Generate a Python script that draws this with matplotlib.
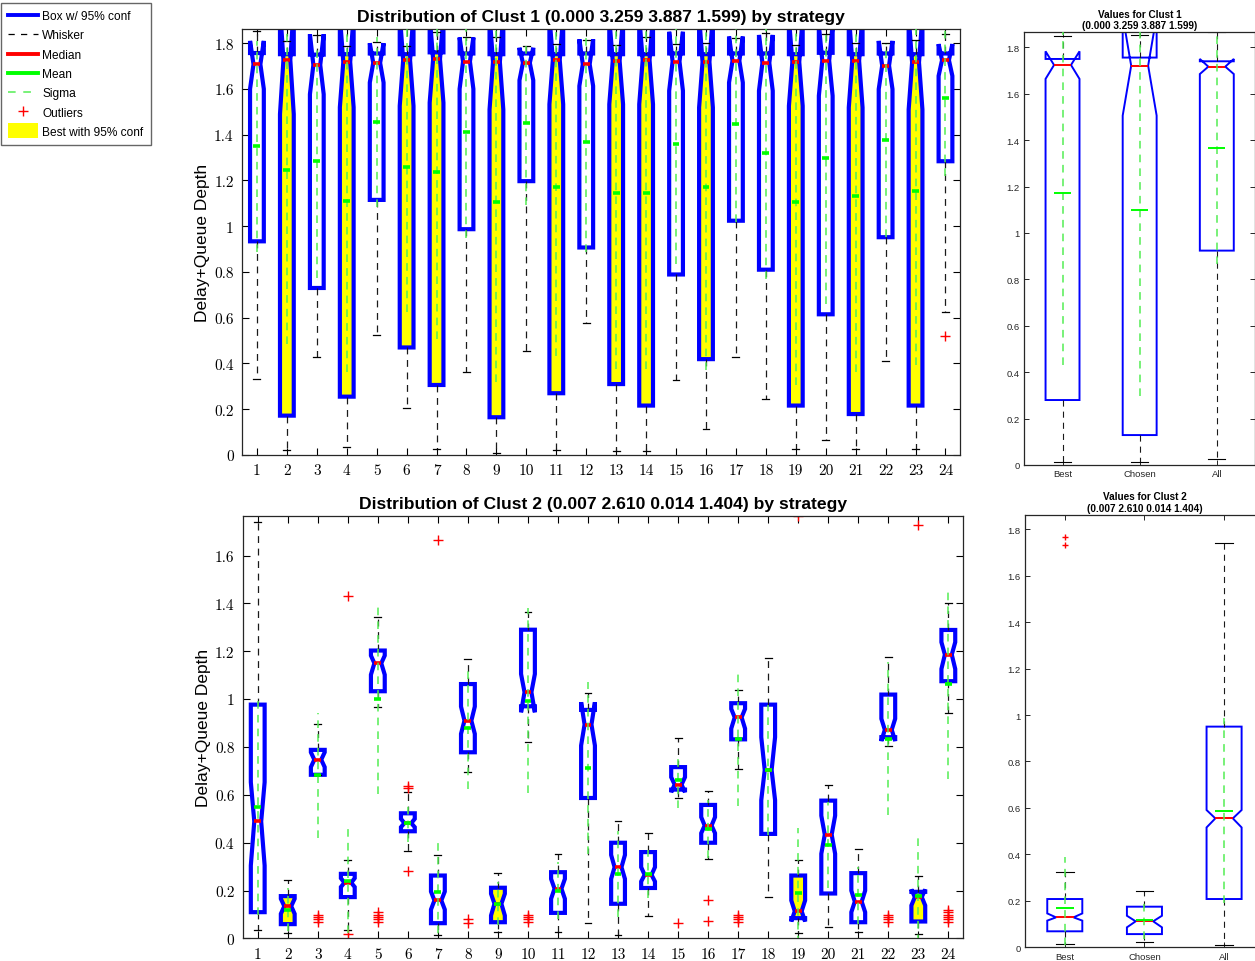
import matplotlib
matplotlib.use('Agg')
import matplotlib.pyplot as plt
import matplotlib.patches as mpatches
from matplotlib.lines import Line2D
from matplotlib.legend_handler import HandlerPatch

plt.rcParams['font.family'] = ['Liberation Sans', 'DejaVu Sans']

# ---------------- data ----------------
strategies = list(range(1, 25))
y_ticks = [0, 0.2, 0.4, 0.6, 0.8, 1.0, 1.2, 1.4, 1.6, 1.8]
y_tick_labels = ['0', '0.2', '0.4', '0.6', '0.8', '1', '1.2', '1.4', '1.6', '1.8']

title1 = 'Distribution of Clust 1 (0.000 3.259 3.887 1.599) by strategy'
title2 = 'Distribution of Clust 2 (0.007 2.610 0.014 1.404) by strategy'
side_title1 = 'Values for Clust 1\n(0.000 3.259 3.887 1.599)'
side_title2 = 'Values for Clust 2\n(0.007 2.610 0.014 1.404)'
side_labels = ['Best', 'Chosen', 'All']
ylabel = 'Delay+Queue Depth'

# Cluster 1, per strategy
c1_whislo = [0.33, 0.023, 0.43, 0.034, 0.524, 0.204, 0.026, 0.364, 0.007, 0.454, 0.022, 0.575,
             0.016, 0.019, 0.329, 0.114, 0.429, 0.245, 0.026, 0.067, 0.026, 0.412, 0.026, 0.623]
c1_q1 = [0.934, 0.172, 0.73, 0.255, 1.115, 0.47, 0.306, 0.987, 0.165, 1.197, 0.27, 0.907,
         0.31, 0.216, 0.789, 0.419, 1.024, 0.81, 0.216, 0.615, 0.179, 0.952, 0.216, 1.284]
c1_cilo = [1.60, 1.49, 1.577, 1.52, 1.628, 1.526, 1.54, 1.60, 1.51, 1.638, 1.533, 1.613,
           1.533, 1.533, 1.592, 1.519, 1.628, 1.592, 1.526, 1.57, 1.519, 1.599, 1.51, 1.657]
c1_med = [1.708, 1.727, 1.705, 1.718, 1.714, 1.726, 1.73, 1.72, 1.718, 1.714, 1.727, 1.708,
          1.723, 1.726, 1.72, 1.718, 1.723, 1.714, 1.718, 1.724, 1.723, 1.702, 1.716, 1.726]
c1_cihi = [1.81, 1.96, 1.839, 1.92, 1.80, 1.93, 1.92, 1.825, 1.93, 1.78, 1.92, 1.817,
           1.91, 1.92, 1.85, 1.92, 1.829, 1.836, 1.91, 1.878, 1.93, 1.81, 1.92, 1.796]
c1_q3 = [1.757, 1.752, 1.75, 1.752, 1.755, 1.752, 1.76, 1.755, 1.752, 1.755, 1.752, 1.755,
         1.752, 1.752, 1.755, 1.752, 1.755, 1.755, 1.752, 1.758, 1.752, 1.755, 1.752, 1.755]
c1_whishi = [1.855, 1.81, 1.837, 1.787, 1.806, 1.787, 1.847, 1.825, 1.829, 1.788, 1.796, 1.814,
             1.79, 1.825, 1.796, 1.80, 1.822, 1.843, 1.79, 1.839, 1.80, 1.80, 1.814, 1.839]
c1_mean = [1.349, 1.247, 1.283, 1.111, 1.455, 1.257, 1.239, 1.41, 1.108, 1.452, 1.171, 1.367,
           1.145, 1.145, 1.359, 1.172, 1.447, 1.318, 1.104, 1.30, 1.133, 1.375, 1.152, 1.56]
c1_sigma = [0.46, 0.76, 0.51, 0.75, 0.37, 0.63, 0.73, 0.46, 0.79, 0.36, 0.74, 0.48,
            0.77, 0.77, 0.525, 0.80, 0.43, 0.55, 0.80, 0.64, 0.77, 0.42, 0.76, 0.34]
c1_fliers = [[], [], [], [], [], [], [], [], [], [], [], [],
             [], [], [], [], [], [], [], [], [], [], [], [0.521]]
c1_best = [2, 4, 6, 7, 9, 11, 13, 14, 16, 19, 21, 23]

# Cluster 2, per strategy
c2_whislo = [0.036, 0.021, 0.681, 0.035, 0.969, 0.367, 0.015, 0.695, 0.027, 0.82, 0.029, 0.064,
             0.015, 0.092, 0.585, 0.333, 0.709, 0.175, 0.023, 0.048, 0.029, 0.803, 0.020, 0.941]
c2_q1 = [0.110, 0.060, 0.684, 0.173, 1.033, 0.448, 0.064, 0.778, 0.068, 0.970, 0.107, 0.587,
         0.145, 0.211, 0.622, 0.40, 0.832, 0.437, 0.085, 0.188, 0.068, 0.841, 0.071, 1.075]
c2_cilo = [0.305, 0.103, 0.716, 0.215, 1.102, 0.465, 0.121, 0.855, 0.096, 0.945, 0.166, 0.806,
           0.249, 0.238, 0.611, 0.44, 0.877, 0.578, 0.071, 0.354, 0.110, 0.825, 0.138, 1.126]
c2_med = [0.489, 0.135, 0.747, 0.233, 1.150, 0.482, 0.159, 0.910, 0.145, 1.029, 0.208, 0.894,
          0.298, 0.266, 0.643, 0.472, 0.924, 0.704, 0.114, 0.434, 0.154, 0.872, 0.173, 1.186]
c2_cihi = [0.653, 0.166, 0.778, 0.252, 1.182, 0.50, 0.196, 0.969, 0.187, 1.105, 0.249, 0.987,
           0.349, 0.298, 0.674, 0.507, 0.959, 0.841, 0.159, 0.513, 0.20, 0.918, 0.205, 1.238]
c2_q3 = [0.977, 0.177, 0.788, 0.270, 1.203, 0.523, 0.263, 1.063, 0.212, 1.290, 0.277, 0.955,
         0.40, 0.361, 0.716, 0.558, 0.983, 0.977, 0.263, 0.576, 0.273, 1.019, 0.195, 1.289]
c2_whishi = [1.739, 0.246, 0.896, 0.329, 1.344, 0.614, 0.349, 1.168, 0.274, 1.365, 0.354, 1.026,
             0.49, 0.440, 0.838, 0.618, 1.038, 1.171, 0.326, 0.643, 0.375, 1.177, 0.259, 1.402]
c2_mean = [0.550, 0.121, 0.681, 0.242, 1.0, 0.482, 0.194, 0.878, 0.145, 0.994, 0.200, 0.712,
           0.270, 0.270, 0.661, 0.458, 0.832, 0.704, 0.191, 0.389, 0.180, 0.835, 0.177, 1.063]
c2_sigma = [0.45, 0.09, 0.26, 0.22, 0.395, 0.08, 0.23, 0.255, 0.09, 0.385, 0.12, 0.36,
            0.18, 0.10, 0.115, 0.12, 0.28, 0.27, 0.27, 0.18, 0.12, 0.32, 0.25, 0.395]
c2_fliers = [[], [], [0.07, 0.08, 0.09, 0.10], [1.432, 0.02], [0.07, 0.08, 0.09, 0.10, 0.11],
             [0.628, 0.638, 0.281], [1.663], [0.065, 0.08], [], [0.07, 0.08, 0.09, 0.10], [], [],
             [], [], [0.064], [0.159, 0.075], [0.07, 0.08, 0.09, 0.10], [], [1.764], [], [],
             [0.07, 0.08, 0.09, 0.10], [1.729], [0.07, 0.08, 0.09, 0.10, 0.11, 0.12]]
c2_best = [2, 9, 19, 23]

# Side panels (Best, Chosen, All)
s1_whislo = [0.011, 0.011, 0.026]
s1_q1 = [0.280, 0.129, 0.924]
s1_cilo = [1.664, 1.506, 1.685]
s1_med = [1.724, 1.721, 1.717]
s1_cihi = [1.783, 1.936, 1.75]
s1_q3 = [1.750, 1.756, 1.74]
s1_whishi = [1.848, 1.853, 1.865]
s1_mean = [1.171, 1.098, 1.366]
s1_sigma = [0.74, 0.80, 0.50]
s1_fliers = [[], [], []]

s2_whislo = [0.013, 0.0215, 0.009]
s2_q1 = [0.069, 0.057, 0.208]
s2_cilo = [0.115, 0.086, 0.516]
s2_med = [0.129, 0.112, 0.555]
s2_cihi = [0.146, 0.136, 0.591]
s2_q3 = [0.208, 0.175, 0.950]
s2_whishi = [0.326, 0.241, 1.741]
s2_mean = [0.169, 0.119, 0.588]
s2_sigma = [0.218, 0.085, 0.397]
s2_fliers = [[1.767, 1.730], [], []]

# ---------------- styling ----------------
BLUE = (0, 0, 1)
RED = (1, 0, 0)
GREEN = (0, 1, 0)
SIGMA = (0.33, 0.93, 0.33)
AXC = '0.15'


def draw_boxes(ax, positions, whislo, q1, cilo, med, cihi, q3, whishi, mean, sigma, fliers,
               best, width, box_lw, med_lw, whisk_lw, flier_size):
    stats = []
    for i in range(len(positions)):
        stats.append(dict(whislo=whislo[i], q1=q1[i], cilo=cilo[i], med=med[i], cihi=cihi[i],
                          q3=q3[i], whishi=whishi[i], mean=mean[i], fliers=fliers[i]))
    res = ax.bxp(stats, positions=positions, widths=width, shownotches=True,
                 patch_artist=True, manage_ticks=False,
                 boxprops=dict(edgecolor=BLUE, facecolor='none', linewidth=box_lw),
                 whiskerprops=dict(color='0.1', linestyle=(0, (5.5, 4.5)), linewidth=whisk_lw),
                 capprops=dict(color='k', linewidth=whisk_lw),
                 medianprops=dict(color=RED, linewidth=med_lw, solid_capstyle='butt'),
                 flierprops=dict(marker='+', markeredgecolor=RED, markersize=flier_size,
                                 markeredgewidth=1.0, linestyle='none'))
    for i, b in enumerate(res['boxes']):
        if positions[i] in best:
            b.set_facecolor('yellow')
    lo = [m - s for m, s in zip(mean, sigma)]
    hi = [m + s for m, s in zip(mean, sigma)]
    ax.vlines(positions, lo, hi, colors=[SIGMA], linestyles=[(0, (5, 4))],
              linewidth=1.1, zorder=2.6)
    ax.hlines(mean, [p - width / 4 for p in positions], [p + width / 4 for p in positions],
              colors=[GREEN], linewidth=med_lw, zorder=3)


fig = plt.figure(figsize=(12.55, 9.62), dpi=100)

# ---- main panels ----
ax1 = fig.add_axes([0.1928, 0.5260, 0.5725, 0.4428])
ax2 = fig.add_axes([0.1934, 0.0234, 0.5742, 0.4389])

draw_boxes(ax1, strategies, c1_whislo, c1_q1, c1_cilo, c1_med, c1_cihi, c1_q3, c1_whishi,
           c1_mean, c1_sigma, c1_fliers, c1_best, 0.46, 3.0, 2.6, 0.9, 7)
draw_boxes(ax2, strategies, c2_whislo, c2_q1, c2_cilo, c2_med, c2_cihi, c2_q3, c2_whishi,
           c2_mean, c2_sigma, c2_fliers, c2_best, 0.46, 3.0, 2.6, 0.9, 7)

for ax, title, ytop in ((ax1, title1, 1.862), (ax2, title2, 1.764)):
    ax.set_xlim(0.5, 24.5)
    ax.set_ylim(0, ytop)
    ax.set_xticks(strategies)
    ax.set_xticklabels([str(s) for s in strategies], fontfamily='cmr10', fontsize=11)
    yt = [v for v in y_ticks if v <= ytop]
    ax.set_yticks(yt)
    ax.set_yticklabels(y_tick_labels[:len(yt)], fontfamily='cmr10', fontsize=11)
    ax.tick_params(direction='in', top=True, right=True, length=5, width=0.8,
                   colors='k', pad=6)
    for sp in ax.spines.values():
        sp.set_color(AXC)
        sp.set_linewidth(0.9)
    ax.set_title(title, fontsize=12.6, fontweight='bold', pad=6)
    ax.set_ylabel(ylabel, fontsize=12.5, labelpad=3)

# ---- side panels ----
ax3 = fig.add_axes([0.8159, 0.5156, 0.1844, 0.4498])
ax4 = fig.add_axes([0.8167, 0.0142, 0.1904, 0.4497])
side_pos = [1, 2, 3]
draw_boxes(ax3, side_pos, s1_whislo, s1_q1, s1_cilo, s1_med, s1_cihi, s1_q3, s1_whishi,
           s1_mean, s1_sigma, s1_fliers, [], 0.44, 1.4, 1.4, 0.8, 5)
draw_boxes(ax4, side_pos, s2_whislo, s2_q1, s2_cilo, s2_med, s2_cihi, s2_q3, s2_whishi,
           s2_mean, s2_sigma, s2_fliers, [], 0.44, 1.4, 1.4, 0.8, 5)
for ax, title, ytop in ((ax3, side_title1, 1.865), (ax4, side_title2, 1.862)):
    ax.set_xlim(0.5, 3.5)
    ax.set_ylim(0, ytop)
    ax.set_xticks(side_pos)
    ax.set_xticklabels(side_labels, fontsize=6.8)
    ax.set_yticks(y_ticks)
    ax.set_yticklabels(y_tick_labels, fontsize=6.8)
    ax.tick_params(direction='in', top=True, right=True, length=3.5, width=0.7,
                   colors=AXC, pad=3)
    for sp in ax.spines.values():
        sp.set_color(AXC)
        sp.set_linewidth(0.9)
    ax.set_title(title, fontsize=7.2, fontweight='bold', pad=3, linespacing=1.2)


# ---- legend ----
class TallPatchHandler(HandlerPatch):
    def create_artists(self, legend, orig_handle, xdescent, ydescent, width, height,
                       fontsize, trans):
        p = mpatches.Rectangle((-xdescent, -ydescent - 0.4 * height), width, 1.8 * height,
                               facecolor='yellow', edgecolor='none', transform=trans)
        return [p]


best_patch = mpatches.Patch(facecolor='yellow')
handles = [
    Line2D([], [], color=BLUE, lw=2.8),
    Line2D([], [], color='k', lw=0.9, linestyle=(0, (5, 5))),
    Line2D([], [], color=RED, lw=2.8),
    Line2D([], [], color=GREEN, lw=2.8),
    Line2D([], [], color=SIGMA, lw=1.1, linestyle=(0, (5, 5))),
    Line2D([], [], color=RED, marker='+', linestyle='none', markersize=7, markeredgewidth=1.0),
    best_patch,
]
labels = ['Box w/ 95% conf', 'Whisker', 'Median', 'Mean', 'Sigma', 'Outliers',
          'Best with 95% conf']
fig.legend(handles, labels, loc='upper left', bbox_to_anchor=(1 / 1255, 1 - 4 / 962),
           borderaxespad=0, fontsize=8.6, frameon=True, fancybox=False, edgecolor='0.4',
           framealpha=1, borderpad=0.6, handlelength=2.5, handletextpad=0.35,
           labelspacing=0.61, handler_map={best_patch: TallPatchHandler()})

fig.savefig('out.png', dpi=100)
